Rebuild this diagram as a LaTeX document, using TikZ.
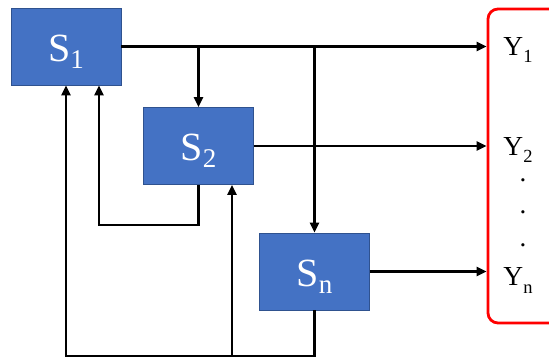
\documentclass[tikz,border=0pt]{standalone}
\usepackage{fontspec}
\setmainfont{Liberation Serif}
\usetikzlibrary{arrows.meta}
\definecolor{boxblue}{HTML}{4472C4}
\definecolor{boxedge}{HTML}{2F528F}
\newcommand{\slab}[2]{{\fontsize{40}{40}\selectfont #1\raisebox{-7pt}{\fontsize{27}{27}\selectfont #2}}}
\newcommand{\ylab}[2]{{\fontsize{27.5}{27.5}\selectfont #1\raisebox{-7pt}{\fontsize{18.5}{18.5}\selectfont #2}}}
\begin{document}
\begin{tikzpicture}[x=1pt,y=-1pt,
  sbox/.style={draw=boxedge, line width=0.6pt, fill=boxblue, text=white,
    minimum width=110pt, minimum height=77pt, inner sep=0pt,
    text height=30pt, text depth=0pt},
  ylabel/.style={anchor=base, inner sep=0pt},
  wire/.style={line width=2.4pt, draw=black},
  arr/.style={wire, -{Triangle[length=10pt,width=9pt]}},
  outbox/.style={draw=red, line width=2.8pt, rounded corners=10pt,
    minimum width=120pt, minimum height=314pt, inner sep=0pt}]
\useasboundingbox (0,0) rectangle (549,358);
\clip (0,0) rectangle (549,358);
\node[sbox] (S1) at (66,46.5) {\slab{S}{1}};
\node[sbox] (S2) at (198.5,146) {\slab{S}{2}};
\node[sbox] (Sn) at (314.5,271.5) {\slab{S}{n}};
\node[outbox] (R) at (548,166) {};
\node[ylabel] (Y1) at (518,56) {\ylab{Y}{1}};
\node[ylabel] (Y2) at (518,156) {\ylab{Y}{2}};
\node[ylabel] (Yn) at (518,286) {\ylab{Y}{n}};
\node[ylabel] (d1) at (523,181.5) {\fontsize{27}{27}\selectfont .};
\node[ylabel] (d2) at (523,213.5) {\fontsize{27}{27}\selectfont .};
\node[ylabel] (d3) at (523,246.5) {\fontsize{27}{27}\selectfont .};
% outputs
\draw[arr] (S1.east) -- (S1.east -| R.west);
\draw[arr] (S2.east) -- (S2.east -| R.west);
\draw[arr] (Sn.east) -- (Sn.east -| R.west);
% branches
\coordinate (b1) at (S1.east -| S2.north);
\coordinate (b2) at (S1.east -| Sn.north);
\draw[arr] (b1) -- (S2.north);
\draw[arr] (b2) -- (Sn.north);
% feedback
\coordinate (f1) at ([xshift=33pt]S1.south);
\coordinate (j) at ([xshift=33.5pt]S2.south);
\draw[arr] (S2.south) -- ++(0,40) -| (f1);
\path (Sn.south) ++(0,45.5) coordinate (fb);
\draw[arr] (Sn.south) -- (fb) -| (S1.south);
\draw[arr] (fb -| j) -- (j);
\end{tikzpicture}
\end{document}
